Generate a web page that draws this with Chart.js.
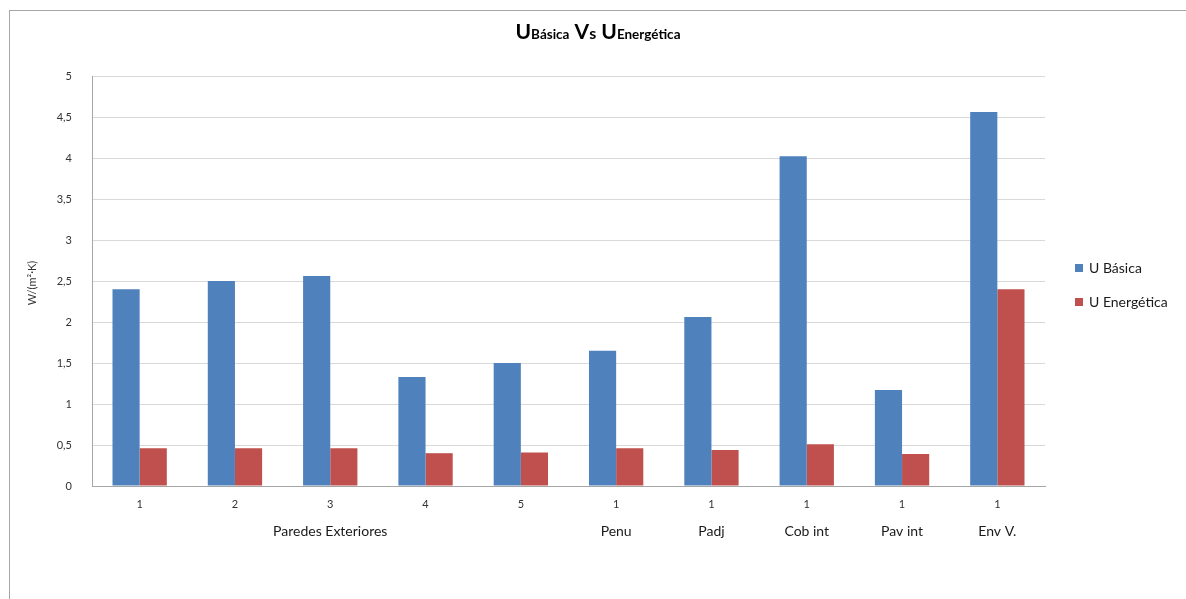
<!DOCTYPE html>
<html><head><meta charset="utf-8">
<script src="https://cdn.jsdelivr.net/npm/chart.js@4/dist/chart.umd.min.js"></script>
<style>
html,body{margin:0;padding:0;background:#fff;overflow:hidden;}
#frame{position:absolute;left:9px;top:10px;width:1200px;height:620px;border-left:1px solid #a6a6a6;border-top:1px solid #a6a6a6;}
#wrap{position:absolute;left:0;top:0;width:1186px;height:599px;}
</style></head><body>
<div id="frame"></div>
<div id="wrap"><canvas id="c" width="1186" height="599"></canvas></div>
<script>
const categories = ['1','2','3','4','5','1','1','1','1','1'];
const groupNames = ['Paredes Exteriores','Penu','Padj','Cob int','Pav int','Env V.'];
const groupStart = [0,5,6,7,8,9];
const groupEnd   = [4,5,6,7,8,9];
const uBasica     = [2.40,2.50,2.56,1.33,1.50,1.65,2.06,4.02,1.17,4.56];
const uEnergetica = [0.46,0.46,0.46,0.40,0.41,0.46,0.44,0.51,0.39,2.40];
const yTicks = [0,0.5,1,1.5,2,2.5,3,3.5,4,4.5,5];

const FONT = 'Lato, "Open Sans", sans-serif';

const decor = {
  id:'decor',
  afterDraw(chart){
    const ctx = chart.ctx, x = chart.scales.x;
    ctx.save();
    // group labels
    ctx.fillStyle = '#1a1a1a';
    ctx.font = '14px ' + FONT;
    ctx.textAlign = 'center'; ctx.textBaseline = 'middle';
    groupNames.forEach((g,i)=>{
      const cx = (x.getPixelForValue(groupStart[i]) + x.getPixelForValue(groupEnd[i]))/2;
      ctx.fillText(g, cx, 531);
    });
    // y title
    ctx.save();
    ctx.translate(32, 283);
    ctx.rotate(-Math.PI/2);
    ctx.font = '11px ' + FONT;
    ctx.fillStyle = '#333';
    ctx.fillText('W/(m\u00B2\u00B7K)', 0, 0);
    ctx.restore();
    // title
    const parts = [['U',21],['Básica',13.5],[' V',21],['s',16],[' U',21],['Energética',13.5]];
    let total = 0;
    parts.forEach(p=>{ctx.font='bold '+p[1]+'px '+FONT; total += ctx.measureText(p[0]).width;});
    let tx = 598 - total/2;
    ctx.textAlign='left'; ctx.textBaseline='alphabetic'; ctx.fillStyle='#000';
    parts.forEach(p=>{ctx.font='bold '+p[1]+'px '+FONT; ctx.fillText(p[0], tx, 39); tx += ctx.measureText(p[0]).width;});
    // legend
    ctx.font = '14px ' + FONT;
    ctx.textBaseline = 'middle';
    chart.data.datasets.forEach((ds,i)=>{
      const ly = 268 + i*34;
      ctx.fillStyle = ds.backgroundColor;
      ctx.fillRect(1075, ly-4, 8, 8);
      ctx.fillStyle = '#1a1a1a';
      ctx.fillText(ds.label, 1089, ly);
    });
    ctx.restore();
  }
};

new Chart(document.getElementById('c'), {
  type:'bar',
  data:{
    labels: categories,
    datasets:[
      {label:'U Básica', data:uBasica, backgroundColor:'#4F81BD', borderColor:'#4F81BD', borderWidth:0},
      {label:'U Energética', data:uEnergetica, backgroundColor:'#C0504D', borderColor:'#C0504D', borderWidth:0}
    ]
  },
  options:{
    responsive:false, animation:false,
    layout:{padding:{left:0,top:76,right:141,bottom:0}},
    plugins:{legend:{display:false}, title:{display:false}, tooltip:{enabled:false}},
    datasets:{bar:{barPercentage:1.0, categoryPercentage:0.57}},
    scales:{
      x:{
        grid:{display:false, drawTicks:false},
        border:{color:'#a6a6a6', width:1},
        ticks:{padding:12, color:'#333', font:{family:FONT, size:11}, maxRotation:0, autoSkip:false},
        afterFit(s){ s.height = 113; }
      },
      y:{
        min:0, max:5,
        afterBuildTicks(s){ s.ticks = yTicks.map(v=>({value:v})); },
        grid:{color:'#d9d9d9', drawTicks:false, lineWidth:1},
        border:{color:'#a6a6a6', width:1},
        ticks:{padding:20, color:'#333', font:{family:FONT, size:11},
          callback:v=>String(v).replace('.',',')},
        afterFit(s){ s.width = 92; }
      }
    }
  },
  plugins:[decor]
});
</script>
</body></html>
